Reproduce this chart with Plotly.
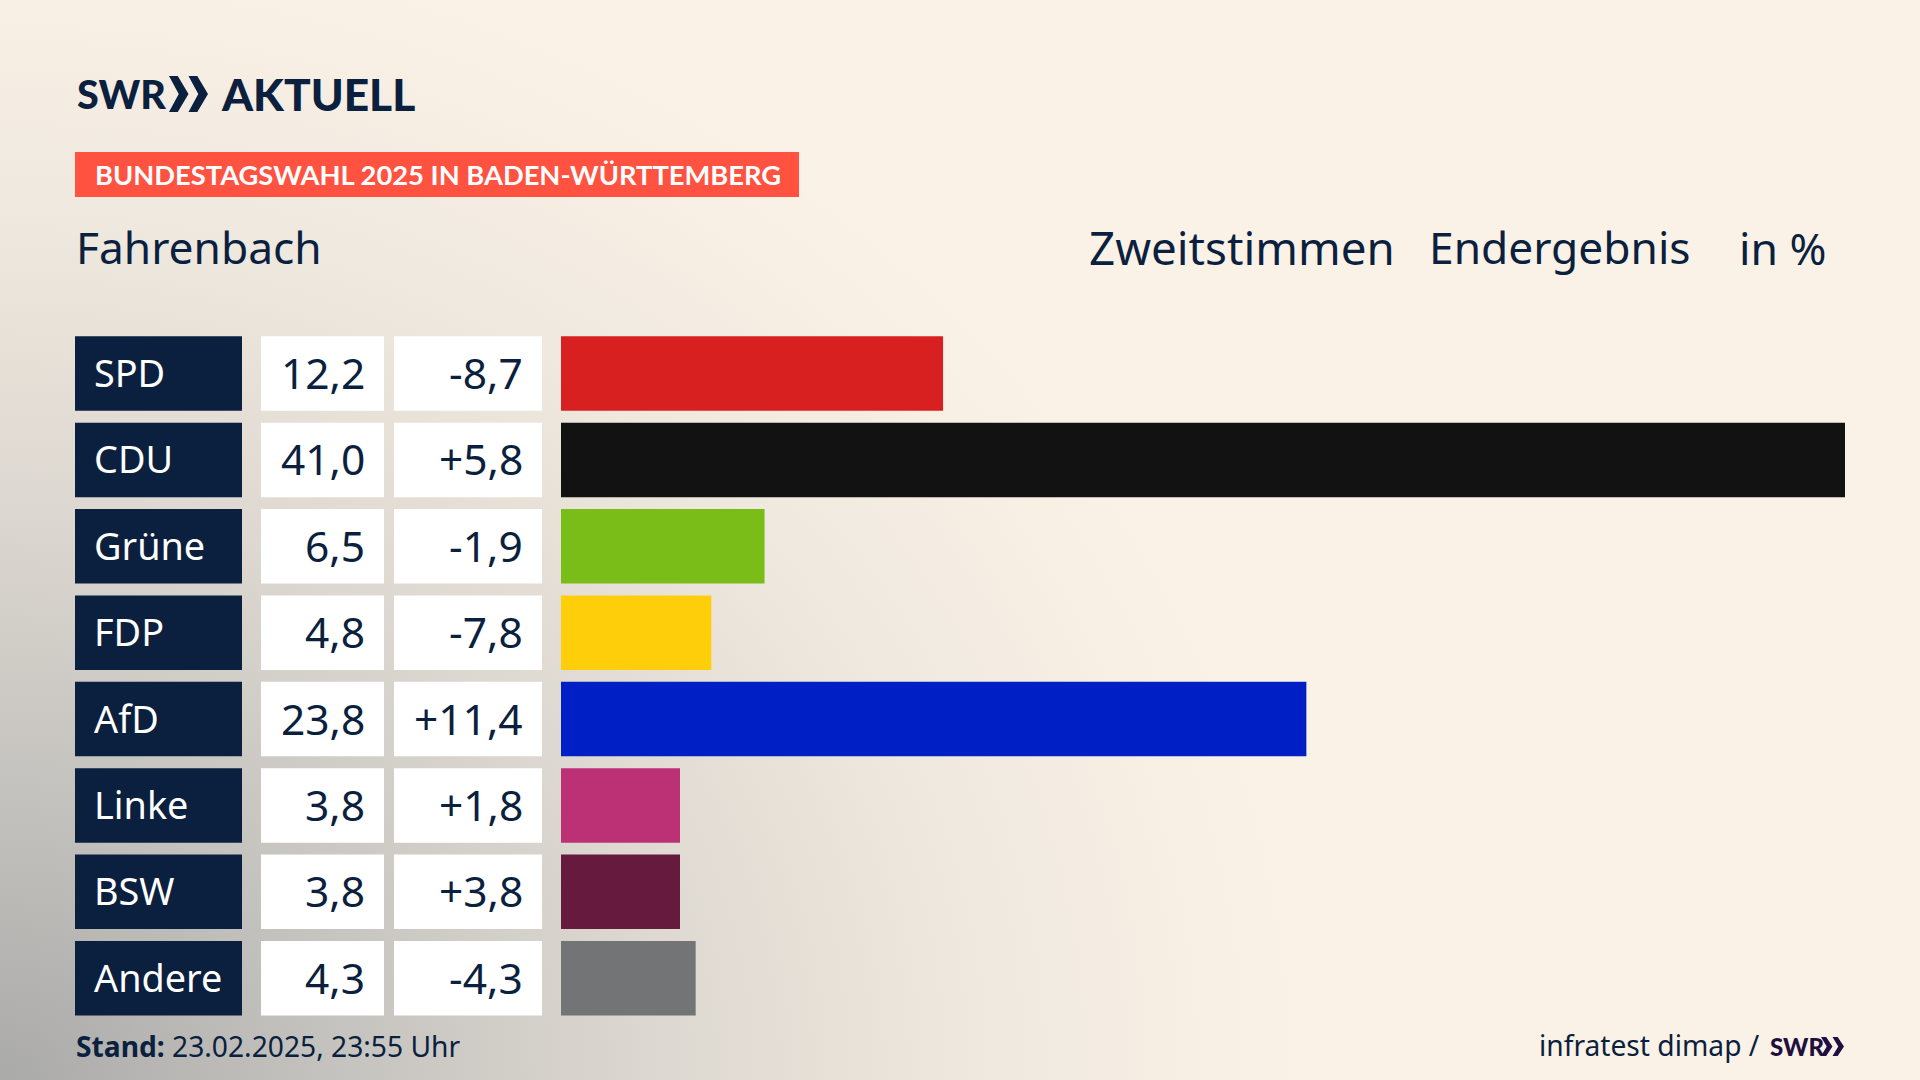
import base64
import plotly.graph_objects as go

# values
parties = ["SPD", "CDU", "Grüne", "FDP", "AfD", "Linke", "BSW", "Andere"]
results = [12.2, 41.0, 6.5, 4.8, 23.8, 3.8, 3.8, 4.3]
changes = [-8.7, 5.8, -1.9, -7.8, 11.4, 1.8, 3.8, -4.3]
bar_colors = ["#D7201F", "#121212", "#7ABD19", "#FFCE0A", "#0020C6", "#BC3076", "#661A3E", "#737475"]

W, H = 1920, 1080
NAVY = "#0B1F3E"
FONT = "Noto Sans"
BOLD = "Lato"

background_svg = f"""<svg xmlns='http://www.w3.org/2000/svg' width='{W}' height='{H}'>
<defs>
<radialGradient id='a' gradientUnits='userSpaceOnUse' cx='0' cy='0' r='1300'
 gradientTransform='translate(0 1080) scale(1 0.88)'>
<stop offset='0' stop-color='#aaaaa9'/><stop offset='0.25' stop-color='#c4c2be'/>
<stop offset='0.5' stop-color='#dcd7d0'/><stop offset='0.75' stop-color='#efe8de'/>
<stop offset='1' stop-color='#fbf2e7'/>
</radialGradient>
</defs>
<rect width='{W}' height='{H}' fill='url(#a)'/>
</svg>"""
background = "data:image/svg+xml;base64," + base64.b64encode(background_svg.encode()).decode()


def px_x(x):
    return x / W


def px_y(y):
    return 1 - y / H


def note(x, y, text, size, color=NAVY, anchor="left", family=FONT, weight=None):
    font = dict(family=family, size=size, color=color)
    if weight:
        font["weight"] = weight
    return dict(x=px_x(x), y=px_y(y), xref="paper", yref="paper", text=text, showarrow=False,
                xanchor=anchor, yanchor="middle", font=font)


def chevrons(x, y, w, h, color):
    # the two arrows of the SWR logo
    paths = []
    for off in (0, w * 0.5):
        cw = w * 0.5
        pts = [(x + off, y), (x + off + cw * 0.45, y), (x + off + cw, y + h / 2),
               (x + off + cw * 0.45, y + h), (x + off, y + h), (x + off + cw * 0.5, y + h / 2)]
        d = "M" + " L".join(f"{px_x(a):.5f},{px_y(b):.5f}" for a, b in pts) + " Z"
        paths.append(dict(type="path", xref="paper", yref="paper", path=d, fillcolor=color, line_width=0))
    return paths


fig = go.Figure()

boxes = [
    ("x2", [1] * len(parties), NAVY),
    ("x3", [1] * len(parties), "#FFFFFF"),
    ("x4", [1] * len(parties), "#FFFFFF"),
]
for axis, vals, color in boxes:
    fig.add_trace(go.Bar(y=parties, x=vals, orientation="h", xaxis=axis, yaxis="y",
                         marker=dict(color=color, line_width=0), hoverinfo="skip"))
fig.add_trace(go.Bar(y=parties, x=results, orientation="h", xaxis="x", yaxis="y",
                     marker=dict(color=bar_colors, line_width=0)))

hidden = dict(visible=False, fixedrange=True)
fig.update_layout(
    width=W, height=H, margin=dict(l=0, r=0, t=0, b=0), showlegend=False, bargap=0.138,
    paper_bgcolor="#FBF2E7", plot_bgcolor="rgba(0,0,0,0)",
    xaxis=dict(domain=[px_x(561), px_x(1845)], range=[0, max(results)], **hidden),
    xaxis2=dict(domain=[px_x(75), px_x(242)], range=[0, 1], anchor="y", **hidden),
    xaxis3=dict(domain=[px_x(261), px_x(384)], range=[0, 1], anchor="y", **hidden),
    xaxis4=dict(domain=[px_x(394), px_x(542)], range=[0, 1], anchor="y", **hidden),
    yaxis=dict(domain=[px_y(1021.4), px_y(330.4)], autorange="reversed", **hidden),
    images=[dict(source=background, xref="paper", yref="paper", x=0, y=1, sizex=1, sizey=1,
                 sizing="stretch", xanchor="left", yanchor="top", layer="below")],
)

shapes = [dict(type="rect", xref="paper", yref="paper", x0=px_x(75), x1=px_x(799),
               y0=px_y(197), y1=px_y(152), fillcolor="#FF5240", line_width=0)]
shapes += chevrons(169, 76, 39, 36, NAVY)
shapes += chevrons(1821, 1037, 23, 19, "#21103F")
fig.update_layout(shapes=shapes)

annotations = [
    note(75, 93, "SWR", 39.5, family=BOLD, weight=900),
    note(219, 93, "AKTUELL", 44.3, family=BOLD, weight=900),
    note(93, 175, "BUNDESTAGSWAHL 2025 IN BADEN-WÜRTTEMBERG", 27.3, color="#FFFFFF", family=BOLD, weight=700),
    note(74, 247, "Fahrenbach", 44.3),
    note(1087, 247, "Zweitstimmen", 45.7),
    note(1427, 247, "Endergebnis", 44.3),
    note(1737, 247, "in %", 44.5),
    note(74, 1046, "<b>Stand:</b> 23.02.2025, 23:55 Uhr", 28.2),
    note(1537, 1045, "infratest dimap /", 28.2),
    note(1768, 1046, "SWR", 24, color="#21103F", family=BOLD, weight=900),
]
for party, result, change in zip(parties, results, changes):
    annotations.append(dict(x=0, y=party, xref="x2 domain", yref="y", text=party, showarrow=False,
                            xanchor="left", xshift=17, yshift=1,
                            font=dict(family=FONT, size=37.8, color="#FFFFFF")))
    annotations.append(dict(x=1, y=party, xref="x3 domain", yref="y", text=f"{result:.1f}".replace(".", ","),
                            showarrow=False, xanchor="right", xshift=-17, yshift=1,
                            font=dict(family=FONT, size=42.5, color=NAVY)))
    annotations.append(dict(x=1, y=party, xref="x4 domain", yref="y", text=f"{change:+.1f}".replace(".", ","),
                            showarrow=False, xanchor="right", xshift=-17, yshift=1,
                            font=dict(family=FONT, size=42.5, color=NAVY)))
fig.update_layout(annotations=annotations)

fig.write_html("out.html", config=dict(displayModeBar=False),
               post_script="document.body.style.margin='0';")
